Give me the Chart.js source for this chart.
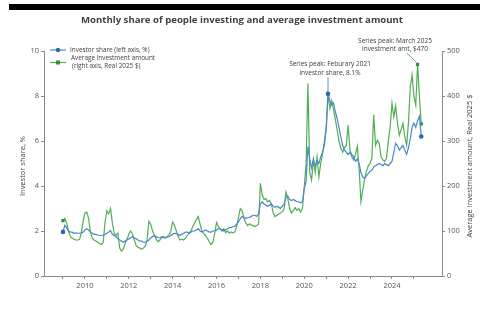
<!DOCTYPE html>
<html>
<head>
<meta charset="utf-8">
<script src="https://cdn.jsdelivr.net/npm/chart.js@4"></script>
<style>
  html, body { margin: 0; padding: 0; background: #fff; }
  #wrap { width: 480px; height: 324px; }
</style>
</head>
<body>
<div id="wrap"><canvas id="chart" width="480" height="324"></canvas></div>
<script>
// Monthly series, Jan 2009 - May 2025
const startYear = 2009;

// Investor share (left axis, %)
const shareValues = [
  1.96, 2.25, 2.15, 2.0, 1.95, 1.95, 1.9, 1.92, 1.9, 1.9, 1.92, 1.95,     // 2009
  2.05, 2.1, 2.05, 1.95, 1.9, 1.85, 1.85, 1.82, 1.8, 1.8, 1.82, 1.85,     // 2010
  1.9, 1.95, 2.02, 1.85, 1.8, 1.75, 1.65, 1.6, 1.55, 1.5, 1.55, 1.6,      // 2011
  1.65, 1.7, 1.75, 1.7, 1.65, 1.6, 1.55, 1.55, 1.5, 1.5, 1.55, 1.6,       // 2012
  1.7, 1.75, 1.8, 1.75, 1.7, 1.7, 1.75, 1.7, 1.7, 1.72, 1.75, 1.8,        // 2013
  1.85, 1.9, 1.88, 1.85, 1.8, 1.85, 1.9, 1.95, 1.95, 1.9, 1.95, 2.0,      // 2014
  2.0, 2.05, 2.1, 2.0, 1.95, 2.0, 2.05, 2.0, 1.95, 1.95, 2.0, 2.0,        // 2015
  2.05, 2.1, 2.1, 2.05, 2.0, 2.05, 2.1, 2.15, 2.15, 2.2, 2.2, 2.3,        // 2016
  2.4, 2.55, 2.65, 2.6, 2.55, 2.6, 2.6, 2.65, 2.7, 2.7, 2.65, 2.75,       // 2017
  3.2, 3.3, 3.2, 3.15, 3.1, 3.15, 3.2, 3.1, 3.05, 3.1, 3.05, 3.0,         // 2018
  3.1, 3.2, 3.5, 3.55, 3.4, 3.35, 3.4, 3.35, 3.3, 3.3, 3.25, 3.3,         // 2019
  3.9, 4.2, 5.75, 5.2, 4.8, 5.2, 4.9, 5.1, 5.0, 5.3, 5.5, 5.8,            // 2020
  6.5, 8.1, 7.8, 7.6, 7.7, 7.3, 7.0, 6.6, 6.2, 5.8, 5.6, 5.5,             // 2021
  5.4, 5.5, 5.4, 5.3, 5.1, 5.2, 5.0, 4.6, 4.4, 4.35, 4.45, 4.55,          // 2022
  4.65, 4.7, 4.85, 4.9, 4.95, 5.0, 4.95, 4.9, 5.0, 4.95, 4.9, 5.0,        // 2023
  5.1, 5.5, 5.9, 5.8, 5.6, 5.7, 5.8, 5.6, 5.4, 5.7, 6.1, 6.6,             // 2024
  6.8, 6.6, 6.9, 7.1, 6.2                                                 // 2025
];

// Average investment amount (right axis, real 2025 $)
const amountValues = [
  123, 128, 118, 100, 88, 84, 82, 80, 80, 81, 95, 122,       // 2009
  140, 142, 128, 98, 84, 80, 78, 75, 72, 70, 74, 120,        // 2010
  145, 138, 150, 118, 95, 90, 96, 62, 55, 60, 72, 82,        // 2011
  92, 100, 94, 80, 68, 64, 62, 60, 62, 66, 80, 122,          // 2012
  115, 100, 90, 82, 76, 80, 86, 88, 84, 88, 92, 100,         // 2013
  120, 112, 100, 88, 80, 82, 80, 84, 90, 96, 100, 110,       // 2014
  118, 125, 132, 115, 100, 94, 90, 84, 76, 70, 74, 95,       // 2015
  119, 110, 104, 100, 105, 96, 100, 95, 98, 96, 98, 110,     // 2016
  130, 150, 145, 128, 118, 112, 116, 113, 112, 110, 112, 115,// 2017
  206, 180, 170, 172, 165, 168, 160, 140, 132, 135, 138, 140,// 2018
  143, 150, 187, 172, 150, 140, 145, 152, 146, 150, 142, 150,// 2019
  198, 250, 428, 230, 213, 258, 230, 265, 220, 250, 270, 300,// 2020
  330, 405, 372, 390, 370, 348, 325, 300, 285, 275, 285, 290,// 2021
  335, 280, 265, 258, 270, 288, 240, 165, 190, 215, 232, 245,// 2022
  250, 262, 358, 290, 302, 295, 265, 258, 255, 262, 300, 331,// 2023
  384, 354, 378, 340, 313, 325, 339, 310, 291, 340, 420, 447,// 2024
  400, 380, 470, 400, 338                                    // 2025
];

const yearTicks = [2009, 2010, 2011, 2012, 2013, 2014, 2015, 2016, 2017, 2018, 2019, 2020, 2021, 2022, 2023, 2024, 2025];
const leftTicks = [0, 2, 4, 6, 8, 10];
const rightTicks = [0, 100, 200, 300, 400, 500];

const FONT = '"Open Sans", "Noto Sans", sans-serif';
const BLUE = '#4a88cc';
const BLUE_DARK = '#2a67ad';
const GREEN = '#4fae55';
const GREEN_DARK = '#2f8f3a';
const TEXT = '#3d3d3d';
const AXIS = '#8a8a8a';

const toPoints = vals => vals.map((v, i) => ({ x: startYear + i / 12, y: v }));

const shareLast = shareValues.length - 1;
const amountLast = amountValues.length - 1;
const sharePeak = shareValues.indexOf(Math.max(...shareValues));
const amountPeak = amountValues.indexOf(Math.max(...amountValues));

const shareMarks = [0, sharePeak, shareLast];
const amountMarks = [0, sharePeak, amountPeak, amountLast];

// extra drawing: top rule, title, axis titles, legend, annotations
const decorations = {
  id: 'decorations',
  beforeDraw(chart) {
    const c = chart.ctx;
    c.save();
    c.fillStyle = '#fff';
    c.fillRect(0, 0, chart.width, chart.height);
    c.fillStyle = '#000';
    c.fillRect(9, 4, 471, 6);
    c.restore();
  },
  afterDraw(chart) {
    const c = chart.ctx;
    const xs = chart.scales.x, ys = chart.scales.y, ys1 = chart.scales.y1;
    c.save();

    // title
    c.fillStyle = '#404040';
    c.font = '700 9.6px ' + FONT;
    c.textAlign = 'center';
    c.textBaseline = 'middle';
    c.fillText('Monthly share of people investing and average investment amount', 242, 20);

    // axis titles
    c.font = '7.5px ' + FONT;
    c.fillStyle = TEXT;
    c.save();
    c.translate(23, 166);
    c.rotate(-Math.PI / 2);
    c.fillText('Investor share, %', 0, 0);
    c.restore();
    c.save();
    c.translate(470, 166);
    c.rotate(-Math.PI / 2);
    c.fillText('Average investment amount, Real 2025 $', 0, 0);
    c.restore();

    // legend
    c.lineWidth = 1.2;
    c.strokeStyle = BLUE;
    c.beginPath(); c.moveTo(50, 50); c.lineTo(66, 50); c.stroke();
    c.fillStyle = BLUE_DARK;
    c.beginPath(); c.arc(58, 50, 2.2, 0, Math.PI * 2); c.fill();
    c.strokeStyle = GREEN;
    c.beginPath(); c.moveTo(50, 62.5); c.lineTo(66, 62.5); c.stroke();
    c.fillStyle = GREEN_DARK;
    c.fillRect(56, 60.5, 4, 4);
    c.fillStyle = TEXT;
    c.font = '6.4px ' + FONT;
    c.textAlign = 'left';
    c.fillText('Investor share (left axis, %)', 70, 50);
    c.fillText('Average investment amount', 71, 58.5);
    c.fillText('(right axis, Real 2025 $)', 72, 66);

    // annotation: investor share peak
    const px = xs.getPixelForValue(startYear + sharePeak / 12);
    const py = ys.getPixelForValue(shareValues[sharePeak]);
    c.textAlign = 'center';
    c.font = '6.5px ' + FONT;
    c.fillText('Series peak: Feburary 2021', 330, 64);
    c.fillText('investor share, 8.1%', 330, 73);
    c.strokeStyle = BLUE;
    c.lineWidth = 0.9;
    c.beginPath(); c.moveTo(px, 77); c.lineTo(px, py - 2); c.stroke();

    // annotation: investment amount peak
    const ax = xs.getPixelForValue(startYear + amountPeak / 12);
    const ay = ys1.getPixelForValue(amountValues[amountPeak]);
    c.fillText('Series peak: March 2025', 395, 41);
    c.fillText('investment amt, $470', 395, 49.5);
    c.strokeStyle = GREEN;
    c.beginPath(); c.moveTo(407, 53); c.lineTo(ax - 1, ay - 2); c.stroke();

    c.restore();
  }
};

const markRadius = marks => ctx => marks.includes(ctx.dataIndex) ? 2.3 : 0;

new Chart(document.getElementById('chart'), {
  type: 'line',
  data: {
    datasets: [
      {
        label: 'Investor share (left axis, %)',
        data: toPoints(shareValues),
        yAxisID: 'y',
        borderColor: BLUE,
        borderWidth: 1.2,
        pointStyle: 'circle',
        pointRadius: markRadius(shareMarks),
        pointBackgroundColor: BLUE_DARK,
        pointBorderWidth: 0,
        tension: 0,
        order: 0
      },
      {
        label: 'Average investment amount (right axis, Real 2025 $)',
        data: toPoints(amountValues),
        yAxisID: 'y1',
        borderColor: GREEN,
        borderWidth: 1.2,
        pointStyle: 'rect',
        pointRadius: markRadius(amountMarks),
        pointBackgroundColor: GREEN_DARK,
        pointBorderWidth: 0,
        tension: 0,
        order: 1
      }
    ]
  },
  options: {
    responsive: false,
    animation: false,
    layout: { padding: { top: 51, left: 0, right: 0, bottom: 0 } },
    plugins: {
      legend: { display: false },
      tooltip: { enabled: false },
      title: { display: false }
    },
    scales: {
      x: {
        type: 'linear',
        min: 2008.134,
        max: 2026.28,
        afterBuildTicks: scale => { scale.ticks = yearTicks.map(v => ({ value: v })); },
        afterFit: scale => { scale.height = 48; },
        ticks: {
          autoSkip: false,
          maxRotation: 0,
          padding: 2,
          color: '#555',
          font: { family: FONT, size: 7.5 },
          callback: v => (v % 2 === 0 ? String(v) : '')
        },
        grid: { drawOnChartArea: false, drawTicks: true, tickLength: 3, color: AXIS },
        border: { color: AXIS, width: 1 }
      },
      y: {
        position: 'left',
        min: 0,
        max: 10,
        afterBuildTicks: scale => { scale.ticks = leftTicks.map(v => ({ value: v })); },
        afterFit: scale => { scale.width = 44; },
        ticks: { padding: 2, color: '#555', font: { family: FONT, size: 7.5 } },
        grid: { drawOnChartArea: false, drawTicks: true, tickLength: 3, color: AXIS },
        border: { color: AXIS, width: 1 }
      },
      y1: {
        position: 'right',
        min: 0,
        max: 500,
        afterBuildTicks: scale => { scale.ticks = rightTicks.map(v => ({ value: v })); },
        afterFit: scale => { scale.width = 38; },
        ticks: { padding: 2, color: '#555', font: { family: FONT, size: 7.5 } },
        grid: { drawOnChartArea: false, drawTicks: true, tickLength: 3, color: AXIS },
        border: { color: AXIS, width: 1 }
      }
    }
  },
  plugins: [decorations]
});
</script>
</body>
</html>
